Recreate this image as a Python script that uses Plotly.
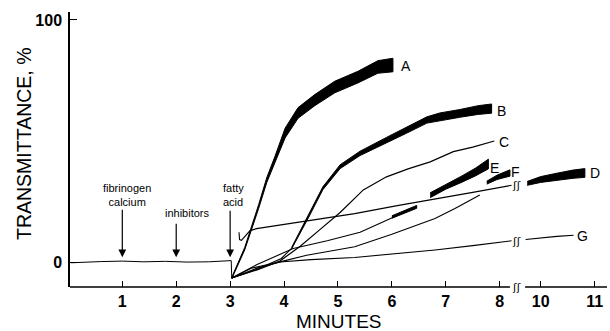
import plotly.graph_objects as go

# ---------------- data (minutes, % transmittance) ----------------
base_t = [0.05, 0.3, 0.6, 1.0, 1.4, 1.8, 2.2, 2.6, 2.9, 3.02, 3.03]
base_v = [-0.3, -0.2, 0.2, 0.4, 0.1, 0.3, 0.0, 0.1, 0.3, 0.6, -6.6]

A_t  = [3.03, 3.27, 3.53, 3.68, 3.83, 4.02, 4.26, 4.57, 4.94, 5.37, 5.74, 6.02]
A_hi = [-6.3, 6.0, 23.8, 34.9, 43.6, 55.3, 63.8, 69.2, 74.7, 78.8, 83.2, 84.2]
A_lo = [-6.9, 5.0, 22.2, 32.9, 40.6, 51.3, 59.4, 64.6, 69.9, 74.0, 78.0, 78.6]

B_t  = [3.03, 3.5, 3.95, 4.14]
B_v  = [-6.6, -3.0, 1.5, 5.7]
Bb_t  = [4.14, 4.45, 4.72, 5.04, 5.41, 5.90, 6.27, 6.65, 6.89, 7.26, 7.60, 7.85]
Bb_hi = [6.0, 19.2, 31.1, 40.2, 45.8, 51.5, 55.8, 60.0, 61.6, 63.0, 64.6, 65.3]
Bb_lo = [5.4, 18.2, 29.9, 38.6, 44.0, 49.3, 53.2, 57.4, 58.4, 59.8, 61.0, 61.5]

C_t = [3.03, 3.5, 3.92, 4.3, 4.67, 5.04, 5.47, 5.90, 6.30, 6.71, 7.14, 7.50, 7.90]
C_v = [-6.6, -3.2, 0.4, 6.5, 13.5, 20.5, 29.8, 35.2, 38.5, 41.4, 45.6, 47.5, 50.0]

D_t = [3.165, 3.175, 3.21, 3.27, 3.37, 3.49, 3.92, 4.85, 5.31, 6.10, 6.75, 7.50, 8.22]
D_v = [12.3, 9.3, 9.0, 10.6, 13.0, 13.8, 15.3, 18.3, 20.0, 23.3, 26.0, 28.8, 31.7]
Db_t  = [9.75, 10.0, 10.3, 10.6, 10.82]
Db_hi = [33.3, 35.3, 36.7, 38.0, 38.6]
Db_lo = [31.7, 32.9, 33.7, 34.6, 35.0]

E_t = [3.03, 3.5, 4.17, 4.8, 5.41, 6.0, 6.46]
E_v = [-6.6, -1.0, 5.6, 8.8, 12.3, 18.4, 22.9]
Ed_t  = [6.0, 6.23, 6.46]
Ed_hi = [19.1, 21.2, 23.4]
Ed_lo = [18.1, 20.0, 22.2]
Eb_t  = [6.71, 7.0, 7.3, 7.55, 7.79]
Eb_hi = [28.6, 31.9, 35.6, 38.8, 42.5]
Eb_lo = [26.6, 30.1, 33.0, 35.6, 38.5]

F_t = [3.03, 3.5, 4.0, 4.42, 5.31, 6.0, 6.80, 7.17, 7.63]
F_v = [-6.6, -2.5, 0.5, 2.8, 6.3, 11.5, 18.0, 22.1, 27.7]
Fb_t  = [7.76, 7.95, 8.19]
Fb_hi = [33.4, 35.9, 38.1]
Fb_lo = [32.2, 34.1, 35.5]

G_t  = [3.03, 3.4, 3.92, 4.5, 5.31, 6.0, 6.80, 7.5, 8.22]
G_v  = [-6.6, -2.5, 0.0, 1.0, 1.9, 3.3, 5.0, 6.8, 8.8]
G2_t = [9.72, 10.0, 10.3, 10.61]
G2_v = [9.3, 10.0, 10.6, 11.1]

x_ticks = [1, 2, 3, 4, 5, 6, 7, 8, 10, 11]
y_ticks = [0, 100]

labels = ["A", "B", "C", "D", "E", "F", "G"]
label_t = [6.26, 8.04, 8.08, 11.01, 7.91, 8.30, 10.78]
label_v = [81.0, 62.4, 49.8, 37.0, 38.8, 37.2, 10.9]

# broken time axis: minutes 10-11 are drawn right after the break
def pos(t):
    return t if t < 9 else t - 10 + 8.76

def P(ts):
    return [pos(t) for t in ts]

BLACK = "black"
fig = go.Figure()

def line(ts, vs, w=1.1):
    fig.add_trace(go.Scatter(x=P(ts), y=vs, mode="lines",
                             line=dict(color=BLACK, width=w), hoverinfo="skip"))

def band(ts, hi, lo):
    fig.add_trace(go.Scatter(x=P(ts) + P(ts)[::-1], y=hi + lo[::-1], mode="lines",
                             fill="toself", fillcolor=BLACK,
                             line=dict(color=BLACK, width=1.0), hoverinfo="skip"))

line(base_t, base_v, 1.0)
band(A_t, A_hi, A_lo)
line(B_t, B_v)
band(Bb_t, Bb_hi, Bb_lo)
line(C_t, C_v, 1.2)
line(D_t, D_v)
band(Db_t, Db_hi, Db_lo)
line(E_t, E_v)
band(Ed_t, Ed_hi, Ed_lo)
band(Eb_t, Eb_hi, Eb_lo)
line(F_t, F_v)
band(Fb_t, Fb_hi, Fb_lo)
line(G_t, G_v)
line(G2_t, G2_v)

FONT = "Liberation Sans, Arial, sans-serif"
ann = []
for lab, t, v in zip(labels, label_t, label_v):
    ann.append(dict(x=pos(t), y=v, text=lab, showarrow=False,
                    font=dict(family=FONT, size=14, color=BLACK)))

# break marks on curves and on the axis
for v in [31.8, 8.3]:
    ann.append(dict(x=8.31, y=v, text="ʃʃ", showarrow=False, yanchor="middle",
                    font=dict(family="DejaVu Sans", size=11, color=BLACK)))
ann.append(dict(x=8.31, y=0, yref="paper", text="ʃʃ", showarrow=False, yanchor="middle",
                bgcolor="white", font=dict(family="DejaVu Sans", size=11, color=BLACK)))

# event arrows
for t, ay in [(1, -49), (2, -35), (3, -48)]:
    ann.append(dict(x=t, y=2.0, text="", showarrow=True, ax=0, ay=ay,
                    arrowhead=2, arrowsize=1.3, arrowwidth=1.2, arrowcolor=BLACK))
ann.append(dict(x=1.085, y=27.7, text="fibrinogen<br>calcium", showarrow=False,
                align="center", font=dict(family=FONT, size=11, color=BLACK)))
ann.append(dict(x=2.21, y=20.2, text="inhibitors", showarrow=False,
                font=dict(family=FONT, size=11, color=BLACK)))
ann.append(dict(x=2.83, y=27.7, text="fatty<br>acid", showarrow=False, xanchor="left",
                align="left", font=dict(family=FONT, size=11, color=BLACK)))

# axis titles
ann.append(dict(x=0.501, y=-0.127, xref="paper", yref="paper", text="MINUTES",
                xanchor="center", yanchor="middle",
                showarrow=False, font=dict(family=FONT, size=19, color=BLACK)))
ann.append(dict(x=-0.0857, y=0.52, xref="paper", yref="paper", text="TRANSMITTANCE, %",
                xanchor="center", yanchor="middle",
                textangle=-90, showarrow=False, font=dict(family=FONT, size=19.5, color=BLACK)))

shapes = [
    dict(type="line", xref="x", yref="paper", x0=0.03, x1=8.19, y0=0, y1=0,
         line=dict(color=BLACK, width=1.5)),
    dict(type="line", xref="x", yref="paper", x0=8.47, x1=9.99, y0=0, y1=0,
         line=dict(color=BLACK, width=1.5)),
]

fig.update_layout(
    width=610, height=331,
    margin=dict(l=70, r=3, t=12, b=44),
    paper_bgcolor="white", plot_bgcolor="white",
    showlegend=False,
    annotations=ann, shapes=shapes,
    xaxis=dict(range=[0.03, 9.99], tickvals=P(x_ticks), ticktext=[str(v) for v in x_ticks],
               ticks="inside", ticklen=6, tickwidth=1.3, tickcolor=BLACK,
               showline=False, showgrid=False, zeroline=False, ticklabelstandoff=3,
               tickfont=dict(family=FONT, size=16, color=BLACK, weight="bold")),
    yaxis=dict(range=[-10.3, 103.3], tickvals=y_ticks, ticktext=[str(v) for v in y_ticks],
               ticks="inside", ticklen=7, tickwidth=1.3, tickcolor=BLACK,
               showline=True, linewidth=1.5, linecolor=BLACK, ticklabelstandoff=3,
               showgrid=False, zeroline=False,
               tickfont=dict(family=FONT, size=16, color=BLACK, weight="bold")),
)

fig.write_html("out.html")
